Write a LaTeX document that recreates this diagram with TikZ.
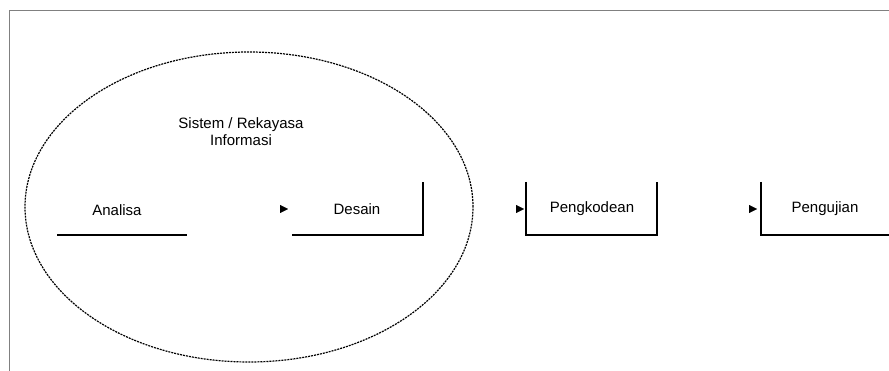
\documentclass[tikz,border=0pt]{standalone}
\usepackage{fontspec}
\setmainfont{Liberation Sans}
\usetikzlibrary{arrows.meta,shapes.geometric}
\begin{document}
\begin{tikzpicture}[x=1pt,y=-1pt,
  lbl/.style={font=\fontsize{15}{17}\selectfont, inner sep=0pt, align=center},
  edge/.style={line width=1.4pt, black},
  frameline/.style={line width=1pt, gray},
  tipmark/.style={-{Triangle[length=8pt,width=8pt]}, line width=0.4pt}]
\useasboundingbox (0,0) rectangle (889,371);
\fill[white] (0,0) rectangle (889,371);
% frame
\coordinate (fr1) at (9,371);
\coordinate (fr2) at (9,11);
\coordinate (fr3) at (889,11);
\draw[frameline] (fr1) -- (fr2) -- (fr3);
% ellipse
\node[draw, ellipse, minimum width=448pt, minimum height=310pt, inner sep=0pt,
  line width=1.2pt, dash pattern=on 2pt off 1pt] (sys) at (249,207) {};
\node[lbl] (systxt) at (241,132) {Sistem / Rekayasa\\Informasi};
% texts
\node[lbl] (analisa) at (117,210) {Analisa};
\node[lbl] (desain) at (357,209) {Desain};
\node[lbl] (kode) at (592,209) {Pengkodean};
\node[lbl] (uji) at (825,209) {Pengujian};
% box outlines
\coordinate (a1) at (57,235); \coordinate (a2) at (187,235);
\draw[edge] (a1) -- (a2);
\coordinate (d1) at (292,235); \coordinate (d2) at (423,235); \coordinate (d3) at (423,182);
\draw[edge] (d1) -- (d2) -- (d3);
\coordinate (k1) at (526,182); \coordinate (k2) at (526,235); \coordinate (k3) at (657,235); \coordinate (k4) at (657,182);
\draw[edge] (k1) -- (k2) -- (k3) -- (k4);
\coordinate (u1) at (761,182); \coordinate (u2) at (761,235); \coordinate (u3) at (889,235);
\draw[edge] (u1) -- (u2) -- (u3);
% arrowheads
\coordinate (t1s) at (280,209); \coordinate (t1e) at (288,209);
\draw[tipmark] (t1s) -- (t1e);
\coordinate (t2s) at (516,209); \coordinate (t2e) at (524,209);
\draw[tipmark] (t2s) -- (t2e);
\coordinate (t3s) at (749,209); \coordinate (t3e) at (757,209);
\draw[tipmark] (t3s) -- (t3e);
\end{tikzpicture}
\end{document}
